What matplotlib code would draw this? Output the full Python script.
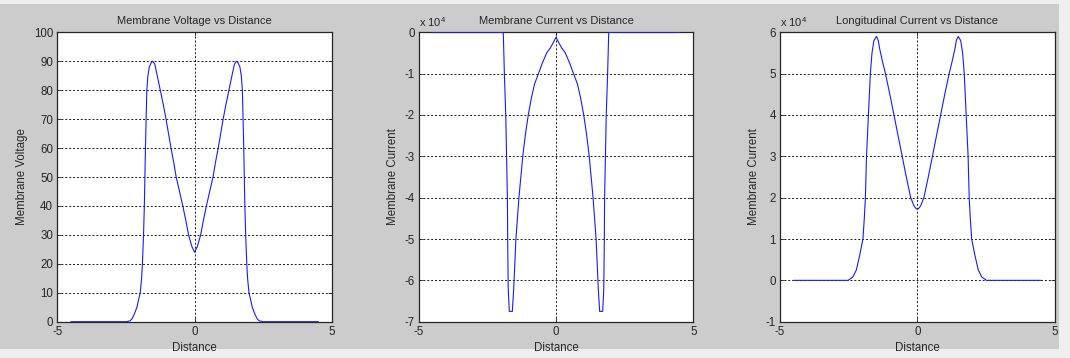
import matplotlib
matplotlib.use("Agg")
import matplotlib.pyplot as plt
from matplotlib.patches import Rectangle

plt.rcParams['font.family'] = ['Liberation Sans', 'DejaVu Sans']
plt.rcParams['mathtext.fontset'] = 'custom'
plt.rcParams['mathtext.rm'] = 'Liberation Sans'
plt.rcParams['mathtext.it'] = 'Liberation Sans'

# ---- data ----
volt_x = [-4.5, -2.5, -2.35, -2.28, -2.2, -2.1, -2.03, -1.98, -1.93, -1.90, -1.86, -1.83,
          -1.79, -1.74, -1.70, -1.65, -1.58, -1.52, -1.45, -1.36, -1.25, -1.14, -1.04,
          -0.95, -0.86, -0.76, -0.67, -0.55, -0.43, -0.32, -0.22, -0.1, 0.0,
          0.1, 0.22, 0.32, 0.43, 0.55, 0.67, 0.76, 0.86, 0.95, 1.04, 1.14, 1.25, 1.36,
          1.45, 1.52, 1.58, 1.65, 1.70, 1.74, 1.79, 1.83, 1.86, 1.90, 1.93, 1.98, 2.03,
          2.1, 2.2, 2.28, 2.35, 2.5, 4.5]
volt_v = [0, 0, 0.3, 1, 2.5, 5, 8, 10, 15, 20, 30, 40,
          60, 80, 85, 88, 89.5, 90, 89, 85, 80, 75, 70,
          65, 60, 55, 50, 45, 40, 35, 30, 26, 24,
          26, 30, 35, 40, 45, 50, 55, 60, 65, 70, 75, 80, 85,
          89, 90, 89.5, 88, 85, 80, 60, 40, 30, 20, 15, 10, 8,
          5, 2.5, 1, 0.3, 0, 0]

imem_x = [-4.5, -1.92, -1.90, -1.88, -1.83, -1.80, -1.77, -1.76, -1.74, -1.70, -1.59,
          -1.54, -1.46, -1.35, -1.21, -1.12, -1.01, -0.90, -0.78, -0.64, -0.50, -0.34,
          -0.20, -0.10, 0.0,
          0.10, 0.20, 0.34, 0.50, 0.64, 0.78, 0.90, 1.01, 1.12, 1.21, 1.35, 1.46, 1.54,
          1.59, 1.70, 1.74, 1.76, 1.77, 1.80, 1.83, 1.88, 1.90, 1.92, 4.5]
imem_v = [0, 0, -0.5, -1.0, -2.0, -3.0, -4.0, -5.0, -6.2, -6.75, -6.75,
          -6.2, -5.0, -4.0, -3.0, -2.5, -2.0, -1.6, -1.25, -1.0, -0.75, -0.5,
          -0.37, -0.25, -0.12,
          -0.25, -0.37, -0.5, -0.75, -1.0, -1.25, -1.6, -2.0, -2.5, -3.0, -4.0, -5.0, -6.2,
          -6.75, -6.75, -6.2, -5.0, -4.0, -3.0, -2.0, -1.0, -0.5, 0, 0]

ilong_x = [-4.5, -2.52, -2.35, -2.22, -2.1, -1.98, -1.93, -1.89, -1.85, -1.78, -1.71,
           -1.65, -1.58, -1.49, -1.42, -1.37, -1.27, -1.16, -1.0, -0.85, -0.7, -0.55,
           -0.40, -0.24, -0.12, -0.05, 0.0,
           0.05, 0.12, 0.24, 0.40, 0.55, 0.7, 0.85, 1.0, 1.16, 1.27, 1.37, 1.42, 1.49, 1.58,
           1.65, 1.71, 1.78, 1.85, 1.89, 1.93, 1.98, 2.1, 2.22, 2.35, 2.52, 4.5]
ilong_v = [0, 0, 0.08, 0.25, 0.6, 1.0, 1.5, 2.0, 3.0, 4.0, 5.0,
           5.5, 5.8, 5.9, 5.8, 5.6, 5.3, 5.0, 4.5, 4.0, 3.5, 3.0,
           2.5, 2.0, 1.8, 1.74, 1.72,
           1.74, 1.8, 2.0, 2.5, 3.0, 3.5, 4.0, 4.5, 5.0, 5.3, 5.6, 5.8, 5.9, 5.8,
           5.5, 5.0, 4.0, 3.0, 2.0, 1.5, 1.0, 0.6, 0.25, 0.08, 0, 0]

titles = ["Membrane Voltage vs Distance", "Membrane Current vs Distance",
          "Longitudinal Current vs Distance"]
ylabels = ["Membrane Voltage", "Membrane Current", "Membrane Current"]
xlabel = "Distance"
xticks = [-5, 0, 5]
yticks_list = [list(range(0, 101, 10)), list(range(-7, 1)), list(range(-1, 7))]
ylims = [(0, 100), (-7, 0), (-1, 6)]
exponent = [None, 4, 4]

# ---- figure ----
W, H = 1070, 358
fig = plt.figure(figsize=(W / 100, H / 100), dpi=100, facecolor='#efefef')
fig.patches.append(Rectangle((0, 9 / H), 1059 / W, (354 - 9) / H,
                             transform=fig.transFigure, facecolor='#cccccc',
                             edgecolor='none', zorder=-10))

lefts = [57.3, 418.7, 780.0]
axw = 274.6
bottom = 358 - 321.7
axh = 289.4

series = [(volt_x, volt_v), (imem_x, imem_v), (ilong_x, ilong_v)]
for i in range(3):
    ax = fig.add_axes([lefts[i] / W, bottom / H, axw / W, axh / H])
    ax.set_facecolor('white')
    x, y = series[i]
    ax.plot(x, y, color='#1a1aff', lw=0.8, zorder=3)
    ax.set_xlim(-5, 5)
    ax.set_ylim(*ylims[i])
    ax.set_xticks(xticks)
    ax.set_yticks(yticks_list[i])
    ax.set_xticklabels([str(t) for t in xticks])
    ax.set_yticklabels([str(t) for t in yticks_list[i]])
    ax.grid(True, color='#1a1a1a', linestyle=(0, (2, 2)), linewidth=0.7)
    ax.tick_params(direction='in', length=3, width=0.6, labelsize=8.3,
                   top=True, right=True, colors='#262626', pad=3)
    for s in ax.spines.values():
        s.set_color('#262626')
        s.set_linewidth(0.9)
    ax.set_title(titles[i], fontsize=8, pad=6, color='#262626')
    ax.set_xlabel(xlabel, fontsize=8.3, labelpad=3, color='#262626')
    ax.set_ylabel(ylabels[i], fontsize=8.3, labelpad=4, color='#262626')
    if exponent[i] is not None:
        ax.text(0.0, 1.012, r'x 10$^{%d}$' % exponent[i], transform=ax.transAxes,
                ha='left', va='bottom', fontsize=8, color='#262626')

fig.savefig('out.png', dpi=100, facecolor=fig.get_facecolor())
